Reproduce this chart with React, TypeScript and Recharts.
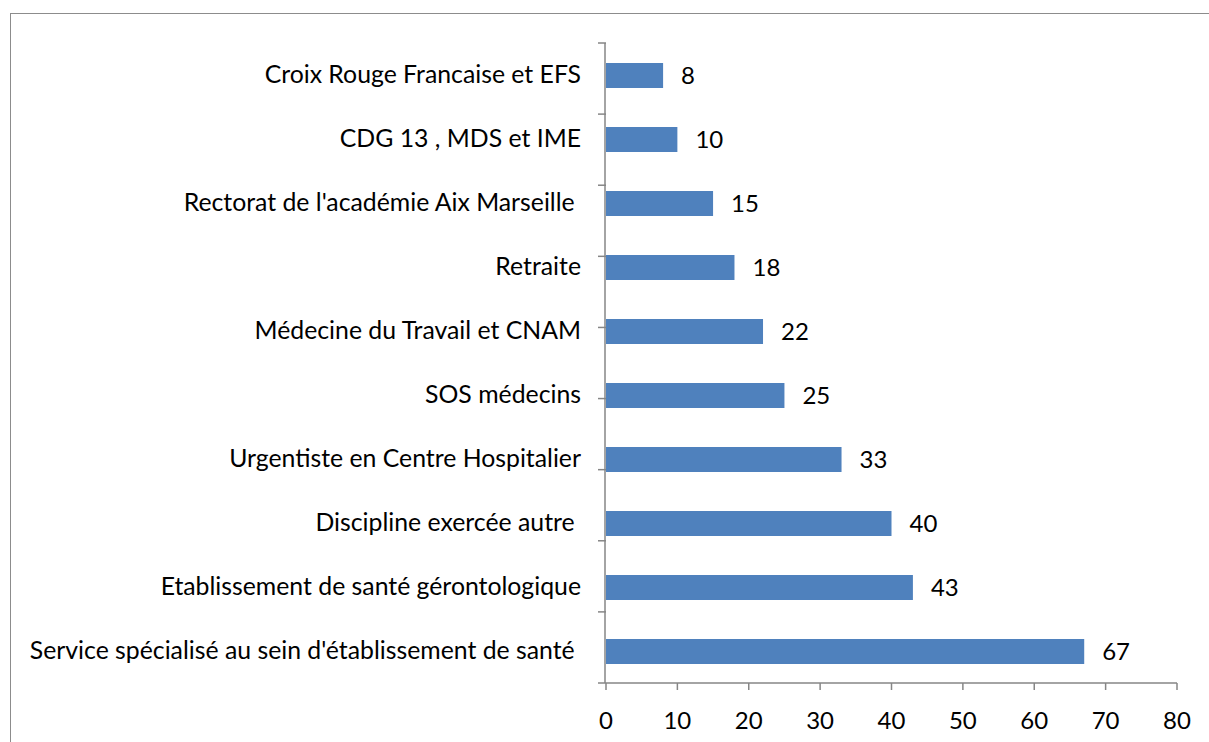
import React from "react";
import { BarChart, Bar, XAxis, YAxis, LabelList } from "recharts";

const categories = [
  "Croix Rouge Francaise et EFS",
  "CDG 13 , MDS et IME",
  "Rectorat de l'académie Aix Marseille ",
  "Retraite",
  "Médecine du Travail et CNAM",
  "SOS médecins",
  "Urgentiste en Centre Hospitalier",
  "Discipline exercée autre ",
  "Etablissement de santé gérontologique",
  "Service spécialisé au sein d'établissement de santé ",
];
const counts = [8, 10, 15, 18, 22, 25, 33, 40, 43, 67];
const xTicks = [0, 10, 20, 30, 40, 50, 60, 70, 80];
const bandTicks = [0, 1, 2, 3, 4, 5, 6, 7, 8, 9, 10];

const data = categories.map((name, i) => ({ name, value: counts[i] }));

const FONT = "Lato, 'Open Sans', sans-serif";
const AXIS = "#868686";
const FS = 24;

function CatTick(props: any) {
  const { x, y, payload } = props;
  return (
    <text
      x={x}
      y={y}
      dy={8}
      textAnchor="end"
      fill="#000"
      fontSize={24.8}
      fontFamily={FONT}
      style={{ whiteSpace: "pre" }}
    >
      {payload.value}
    </text>
  );
}

export default function App() {
  return (
    <div style={{ position: "absolute", left: 0, top: 0, width: 1209, height: 742, background: "#fff", overflow: "hidden" }}>
      <div
        style={{
          position: "absolute",
          left: 10,
          top: 13,
          width: 1220,
          height: 760,
          border: "1.5px solid #8c8c8c",
        }}
      />
      <BarChart
        width={1209}
        height={742}
        data={data}
        layout="vertical"
        margin={{ top: 43, right: 32, bottom: 0, left: 0 }}
        barCategoryGap={0}
        style={{ position: "absolute", left: 0, top: 0 }}
      >
        <XAxis
          type="number"
          domain={[0, 80]}
          ticks={xTicks}
          height={59}
          stroke={AXIS}
          strokeWidth={1.5}
          tickSize={7}
          tickMargin={22}
          tick={{ fill: "#000", fontSize: FS, fontFamily: FONT }}
        />
        <YAxis
          yAxisId="bounds"
          type="number"
          domain={[0, 10]}
          ticks={bandTicks}
          width={1}
          tick={() => <g />}
          tickSize={8}
          tickLine={{ stroke: AXIS, strokeWidth: 1.5 }}
          axisLine={false}
          interval={0}
          allowDataOverflow
        />
        <YAxis
          yAxisId="cat"
          type="category"
          dataKey="name"
          width={605}
          stroke={AXIS}
          strokeWidth={1.5}
          tickLine={false}
          tickMargin={18}
          tick={<CatTick />}
          interval={0}
        />
        <Bar yAxisId="cat" dataKey="value" fill="#4F81BD" barSize={25} isAnimationActive={false}>
          <LabelList
            dataKey="value"
            position="right"
            offset={18}
            fill="#000"
            fontSize={FS}
            fontFamily={FONT}
          />
        </Bar>
      </BarChart>
    </div>
  );
}
